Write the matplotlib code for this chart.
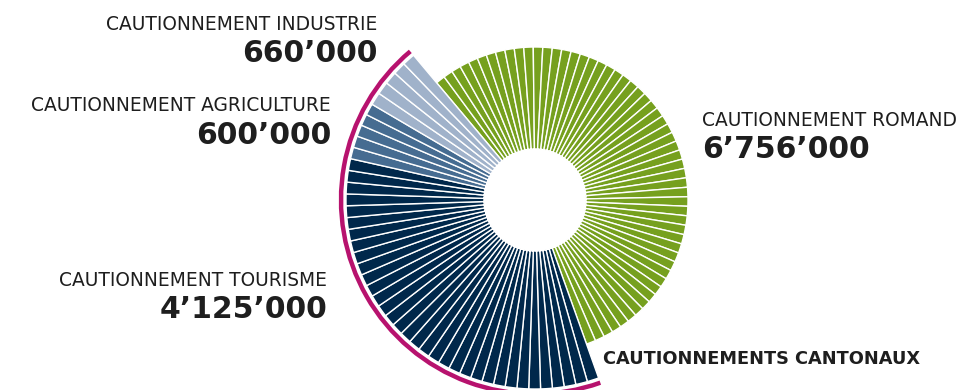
import matplotlib
matplotlib.use("Agg")
import matplotlib.pyplot as plt
from matplotlib.patches import Wedge, Arc

# montants des cautionnements (CHF)
categories = ["CAUTIONNEMENT ROMAND", "CAUTIONNEMENT TOURISME",
              "CAUTIONNEMENT AGRICULTURE", "CAUTIONNEMENT INDUSTRIE"]
values = [6756000, 4125000, 600000, 660000]
value_labels = ["6’756’000", "4’125’000", "600’000", "660’000"]
colors = ["#76A01E", "#00284B", "#466C91", "#A0B2CA"]
cantonal = [False, True, True, True]

W, H = 975, 390
fig = plt.figure(figsize=(W / 100, H / 100), dpi=100)
ax = fig.add_axes([0, 0, 1, 1])
ax.set_xlim(0, W)
ax.set_ylim(0, H)
ax.axis("off")

cx, cy = 535, 190
r_in = 51
r_romand = 153
r_cant = 189

total = sum(values)
start = 130.0
ang = start
cant_start = None
cant_end = None
for val, col, is_cant in zip(values, colors, cantonal):
    span = val / total * 360
    n = max(1, round(val / total * 100))
    step = span / n
    r_out = r_cant if is_cant else r_romand
    for k in range(n):
        t2 = ang - k * step
        t1 = t2 - step
        ax.add_patch(Wedge((cx, cy), r_out, t1, t2, width=r_out - r_in,
                           facecolor=col, edgecolor="white", linewidth=1.0))
    if is_cant:
        if cant_start is None:
            cant_start = ang
        cant_end = ang - span
    ang -= span

# arc des cautionnements cantonaux
r_arc = 194
ax.add_patch(Arc((cx, cy), 2 * r_arc, 2 * r_arc, theta1=cant_end, theta2=cant_start,
                 color="#B7126E", linewidth=3.2))

txt = "#1E1E1E"
font = "DejaVu Sans"
label_pos = {
    "CAUTIONNEMENT ROMAND": (702, 120.5, 150, "left"),
    "CAUTIONNEMENT TOURISME": (327, 280, 309.5, "right"),
    "CAUTIONNEMENT AGRICULTURE": (331, 105.5, 136, "right"),
    "CAUTIONNEMENT INDUSTRIE": (377, 25, 53, "right"),
}
for cat, vl in zip(categories, value_labels):
    x, y1, y2, ha = label_pos[cat]
    ax.text(x, H - y1, cat, ha=ha, va="center", fontsize=13.4,
            family=font, color=txt)
    ax.text(x, H - y2, vl, ha=ha, va="center", fontsize=21.5,
            family=font, fontweight="bold", color=txt)

ax.text(603, H - 359.5, "CAUTIONNEMENTS CANTONAUX", ha="left", va="center",
        fontsize=12.8, family=font, fontweight="bold", color=txt)

fig.savefig("out.png", dpi=100)
